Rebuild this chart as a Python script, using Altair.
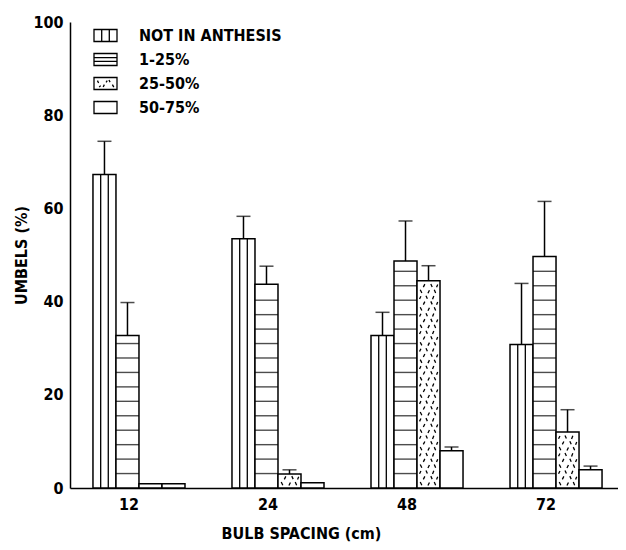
import altair as alt
import pandas as pd

# ---- data ----
spacings = ["12", "24", "48", "72"]
categories = ["NOT IN ANTHESIS", "1-25%", "25-50%", "50-75%"]
not_in_anthesis = [67.3, 53.5, 32.7, 30.8]
pct_1_25 = [32.7, 43.7, 48.7, 49.7]
pct_25_50 = [0.9, 3.0, 44.5, 12.0]
pct_50_75 = [0.9, 1.1, 8.0, 3.9]
# upper end of the error bars (None = no error bar drawn)
err_not_in_anthesis = [74.4, 58.3, 37.7, 43.9]
err_1_25 = [39.8, 47.6, 57.3, 61.5]
err_25_50 = [None, 3.9, 47.7, 16.8]
err_50_75 = [None, None, 8.8, 4.7]
y_ticks = [0, 20, 40, 60, 80, 100]

FONT = "DejaVu Sans Condensed, Liberation Sans Narrow, sans-serif"
FS = 16

values = [not_in_anthesis, pct_1_25, pct_25_50, pct_50_75]
errors = [err_not_in_anthesis, err_1_25, err_25_50, err_50_75]
rows = []
for cat, vals, errs in zip(categories, values, errors):
    for s, v, e in zip(spacings, vals, errs):
        rows.append({"spacing": s, "cat": cat, "value": v, "err": e, "zero": 0})
df = pd.DataFrame(rows)
df_err = df.dropna(subset=["err"])

# fill patterns (style only): horizontal hatch lines and stipple rows
HATCH = 3.1
hatch = []
for s, v in zip(spacings, pct_1_25):
    k = 1
    while k * HATCH < v - 1.0:
        hatch.append({"spacing": s, "cat": "1-25%", "y": k * HATCH})
        k += 1
hatch = pd.DataFrame(hatch)

STIP = 1.25
stip = []
for s, v in zip(spacings, pct_25_50):
    k = 0
    while 0.9 + STIP * k < v - 0.7:
        stip.append({"spacing": s, "cat": "25-50%", "y": 0.9 + STIP * k, "tile": k % 3})
        k += 1
stip = pd.DataFrame(stip)

TILES = [
    "M-0.72,-0.16L-0.58,0.12M-0.05,0.14L0.08,-0.12M0.5,-0.15L0.62,0.12",
    "M-0.45,0.12L-0.32,-0.14M0.2,-0.16L0.32,0.1M0.7,0.14L0.8,-0.1",
    "M-0.78,0.14L-0.66,-0.1M-0.22,-0.14L-0.1,0.12M0.35,0.15L0.46,-0.12",
]

legend_paths = [
    "M-1,-0.52H1V0.52H-1Z M-0.33,-0.52V0.52 M0.33,-0.52V0.52",
    "M-1,-0.52H1V0.52H-1Z M-1,-0.17H1 M-1,0.17H1",
    "M-1,-0.52H1V0.52H-1Z M-0.7,-0.25L-0.6,-0.05 M-0.2,0.3L-0.1,0.1 M0.3,-0.3L0.4,-0.12 M0.6,0.1L0.72,0.32 M-0.55,0.32L-0.42,0.18 M0.05,-0.1L0.15,-0.25",
    "M-1,-0.52H1V0.52H-1Z",
]

x_enc = alt.X(
    "spacing:N",
    sort=spacings,
    scale=alt.Scale(paddingInner=0.338, paddingOuter=0.14, align=0.59),
    axis=alt.Axis(
        title="BULB SPACING (cm)",
        labelAngle=0,
        ticks=False,
        domainColor="black",
        domainWidth=1.5,
        labelPadding=8,
        labelOffset=-10,
        titleX=231,
        titleY=50,
        titleAlign="center",
        titleBaseline="alphabetic",
    ),
)
xo_enc = alt.XOffset("cat:N", sort=categories, scale=alt.Scale(domain=categories))
y_axis = alt.Axis(
    title="UMBELS (%)",
    values=y_ticks,
    grid=False,
    ticks=False,
    domainColor="black",
    domainWidth=1.5,
    labelPadding=7,
    titlePadding=3,
)
y_scale = alt.Scale(domain=[0, 100], nice=False)

base = alt.Chart(df)

legend_layer = base.mark_point(filled=False, opacity=0, color="black").encode(
    x=x_enc,
    xOffset=xo_enc,
    y=alt.Y("value:Q", scale=y_scale, axis=y_axis),
    shape=alt.Shape(
        "cat:N",
        sort=categories,
        scale=alt.Scale(domain=categories, range=legend_paths),
        legend=alt.Legend(
            title=None,
            orient="none",
            legendX=23,
            legendY=1,
            padding=0,
            symbolSize=529,
            symbolFillColor="white",
            symbolStrokeColor="black",
            symbolStrokeWidth=1.3,
            symbolOpacity=1,
            labelFont=FONT,
            labelFontSize=FS,
            labelFontWeight="bold",
            labelColor="black",
            labelOffset=21,
            labelLimit=300,
            rowPadding=2,
        ),
    ),
)

bars = base.mark_bar(fill="white", stroke="black", strokeWidth=1.5).encode(
    x=x_enc, xOffset=xo_enc, y=alt.Y("value:Q", scale=y_scale, axis=y_axis)
)

# two inner vertical lines of the "NOT IN ANTHESIS" bars (bar = 1/4 of a 92px group band)
not_only = base.transform_filter(alt.datum.cat == "NOT IN ANTHESIS")
vline_layers = [
    not_only.mark_rule(color="black", strokeWidth=1.3, xOffset=off).encode(
        x=x_enc,
        y=alt.Y("value:Q", scale=y_scale, axis=y_axis),
        y2="zero:Q",
    )
    for off in (-38.3, -30.7)
]

hlines = alt.Chart(hatch).mark_tick(size=23, thickness=1.4, color="black", orient="horizontal").encode(
    x=x_enc, xOffset=xo_enc, y=alt.Y("y:Q", scale=y_scale, axis=y_axis)
)

stip_layers = [
    alt.Chart(stip)
    .transform_filter(alt.datum.tile == i)
    .mark_point(shape=path, size=529, filled=False, color="black", strokeWidth=1.3, opacity=1)
    .encode(x=x_enc, xOffset=xo_enc, y=alt.Y("y:Q", scale=y_scale, axis=y_axis))
    for i, path in enumerate(TILES)
]

err_rules = alt.Chart(df_err).mark_rule(color="black", strokeWidth=1.5).encode(
    x=x_enc, xOffset=xo_enc, y=alt.Y("value:Q", scale=y_scale, axis=y_axis), y2="err:Q"
)
err_caps = alt.Chart(df_err).mark_tick(size=14, thickness=1.5, color="black", orient="horizontal").encode(
    x=x_enc, xOffset=xo_enc, y=alt.Y("err:Q", scale=y_scale, axis=y_axis)
)

chart = (
    alt.layer(legend_layer, bars, *vline_layers, hlines, *stip_layers, err_rules, err_caps)
    .properties(
        width=548,
        height=466,
        autosize="none",
        padding={"left": 62, "top": 14, "right": 0, "bottom": 54},
        background="white",
    )
    .configure_view(stroke=None)
    .configure_axis(
        labelFont=FONT,
        labelFontSize=FS,
        labelFontWeight="bold",
        labelColor="black",
        titleFont=FONT,
        titleFontSize=FS,
        titleFontWeight="bold",
        titleColor="black",
    )
)

chart.save("out.html", embed_options={"renderer": "svg", "actions": False})
